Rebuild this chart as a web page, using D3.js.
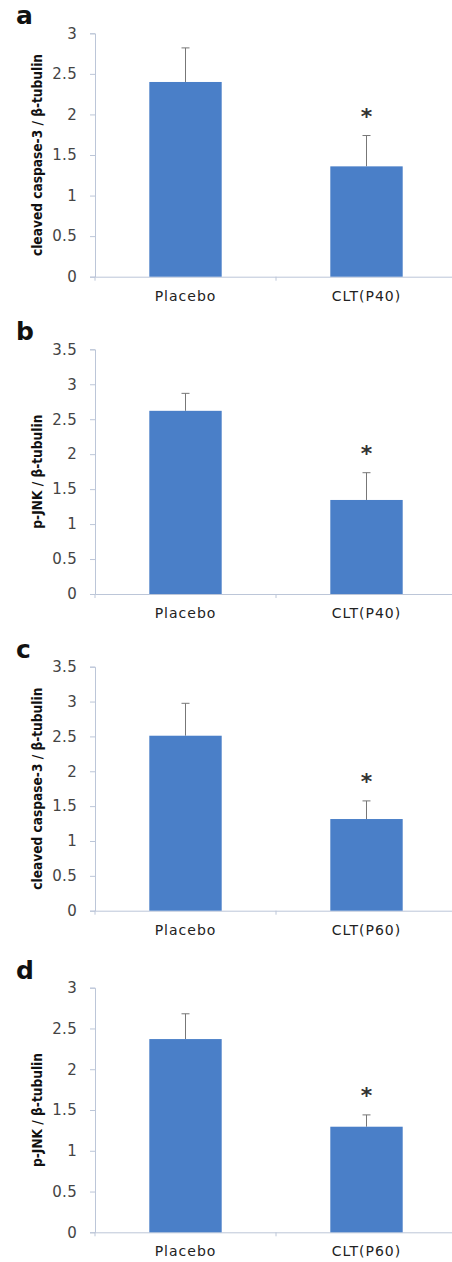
<!DOCTYPE html>
<html>
<head>
<meta charset="utf-8">
<script src="https://cdn.jsdelivr.net/npm/d3@7"></script>
<style>
  body { margin: 0; background: #fff; }
  svg { display: block; }
</style>
</head>
<body>
<script>
// chart values
var panelLetters = ["a", "b", "c", "d"];
var yTitles = ["cleaved caspase-3 / β-tubulin", "p-JNK / β-tubulin",
               "cleaved caspase-3 / β-tubulin", "p-JNK / β-tubulin"];
var groupsP40 = ["Placebo", "CLT(P40)"];
var groupsP60 = ["Placebo", "CLT(P60)"];
var meanA = [2.40, 1.36], upperA = [2.82, 1.74];
var meanB = [2.62, 1.345], upperB = [2.87, 1.735];
var meanC = [2.51, 1.315], upperC = [2.975, 1.575];
var meanD = [2.37, 1.295], upperD = [2.68, 1.44];
var yMaxes = [3, 3.5, 3.5, 3];
var starred = [false, true];

var panels = [
  {letter: panelLetters[0], title: yTitles[0], groups: groupsP40, mean: meanA, upper: upperA, ymax: yMaxes[0], top: 33.3, bottom: 276.7},
  {letter: panelLetters[1], title: yTitles[1], groups: groupsP40, mean: meanB, upper: upperB, ymax: yMaxes[1], top: 349.3, bottom: 594},
  {letter: panelLetters[2], title: yTitles[2], groups: groupsP60, mean: meanC, upper: upperC, ymax: yMaxes[2], top: 666.7, bottom: 910.7},
  {letter: panelLetters[3], title: yTitles[3], groups: groupsP60, mean: meanD, upper: upperD, ymax: yMaxes[3], top: 987.7, bottom: 1232.3}
];

var W = 452, H = 1262;
var left = 95, right = 457;
var axisColor = "#bcc6d8", barColor = "#4a7fc8", errColor = "#777";

var svg = d3.select("body").append("svg")
  .attr("width", W)
  .attr("height", H);

panels.forEach(function(p) {
  var g = svg.append("g");

  var x = d3.scaleBand().domain(p.groups).range([left, right]).paddingInner(0).paddingOuter(0);
  var y = d3.scaleLinear().domain([0, p.ymax]).range([p.bottom, p.top]);
  var bw = x.bandwidth() * 0.4;

  // y axis
  var ya = g.append("g")
    .attr("transform", "translate(" + left + ",0)")
    .call(d3.axisLeft(y).tickValues(d3.range(0, p.ymax + 0.01, 0.5)).tickSize(5).tickPadding(13)
      .tickFormat(function(d) { return d3.format("")(+d.toFixed(1)); }));
  ya.select(".domain").attr("stroke", axisColor);
  ya.selectAll(".tick line").attr("stroke", axisColor);
  ya.selectAll(".tick text")
    .attr("fill", "#444")
    .style("font-family", "DejaVu Sans")
    .style("font-size", "15px")
    .style("letter-spacing", "0.3px");

  // x axis
  var xa = g.append("g")
    .attr("transform", "translate(0," + p.bottom + ")")
    .call(d3.axisBottom(x).tickSize(0).tickPadding(14));
  xa.select(".domain").attr("stroke", axisColor);
  xa.selectAll(".tick text")
    .attr("fill", "#222")
    .style("font-family", "DejaVu Sans")
    .style("font-size", "14px")
    .style("letter-spacing", "1px");
  // category boundary ticks
  xa.selectAll(".bnd")
    .data([left, x(p.groups[1]), right])
    .enter().append("line")
    .attr("x1", function(d) { return d; })
    .attr("x2", function(d) { return d; })
    .attr("y1", 0).attr("y2", 4)
    .attr("stroke", axisColor);

  // error bars (upper only)
  p.groups.forEach(function(c, i) {
    var cx = x(c) + x.bandwidth() / 2;
    g.append("line")
      .attr("x1", cx).attr("x2", cx)
      .attr("y1", y(p.mean[i])).attr("y2", y(p.upper[i]))
      .attr("stroke", errColor).attr("stroke-width", 1);
    g.append("line")
      .attr("x1", cx - 4).attr("x2", cx + 4)
      .attr("y1", y(p.upper[i])).attr("y2", y(p.upper[i]))
      .attr("stroke", errColor).attr("stroke-width", 1);
  });

  // bars
  g.selectAll(".bar")
    .data(p.groups)
    .enter().append("rect")
    .attr("x", function(d) { return x(d) + (x.bandwidth() - bw) / 2; })
    .attr("y", function(d, i) { return y(p.mean[i]); })
    .attr("width", bw)
    .attr("height", function(d, i) { return p.bottom - y(p.mean[i]); })
    .attr("fill", barColor);

  // significance stars
  p.groups.forEach(function(c, i) {
    if (!starred[i]) return;
    g.append("text")
      .attr("x", x(c) + x.bandwidth() / 2)
      .attr("y", y(p.upper[i]) - 12)
      .attr("text-anchor", "middle")
      .style("font-family", "DejaVu Sans")
      .style("font-weight", "bold")
      .style("font-size", "22px")
      .attr("fill", "#333")
      .text("*");
  });

  // y title
  g.append("text")
    .attr("transform", "translate(42," + (p.top + p.bottom) / 2 + ") rotate(-90)")
    .attr("text-anchor", "middle")
    .style("font-family", "DejaVu Sans Condensed, DejaVu Sans")
    .style("font-weight", "bold")
    .style("font-size", "13.6px")
    .attr("fill", "#111")
    .text(p.title);

  // panel letter
  g.append("text")
    .attr("x", 16)
    .attr("y", p.top - 9)
    .style("font-family", "DejaVu Sans")
    .style("font-weight", "bold")
    .style("font-size", "25px")
    .attr("fill", "#111")
    .text(p.letter);
});
</script>
</body>
</html>
